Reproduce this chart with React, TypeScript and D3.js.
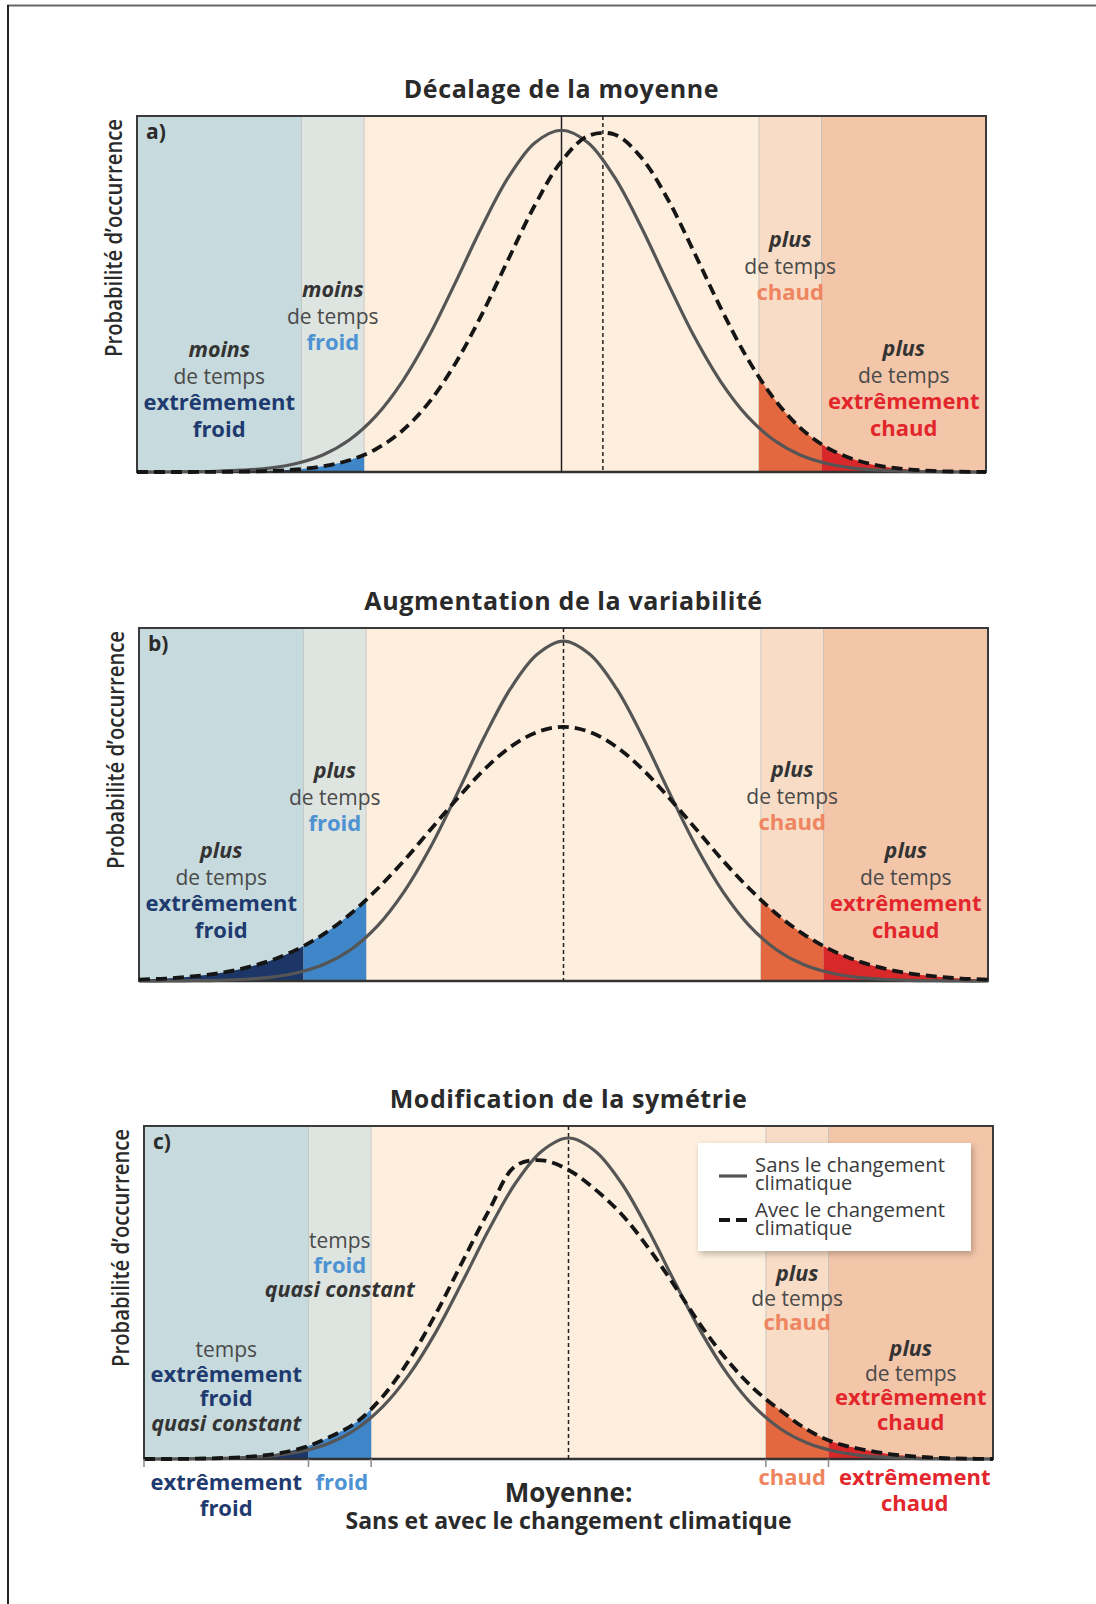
import React from 'react';
import * as d3 from 'd3';

// ---------- DATA ----------
const xGrid = [-4, -3.75, -3.5, -3.25, -3, -2.75, -2.5, -2.25, -2, -1.75, -1.5, -1.25, -1, -0.75, -0.5, -0.25, 0,
  0.25, 0.5, 0.75, 1, 1.25, 1.5, 1.75, 2, 2.25, 2.5, 2.75, 3, 3.25, 3.5, 3.75, 4];

const solidA = [0, 0, 0.001, 0.002, 0.005, 0.011, 0.024, 0.048, 0.09, 0.157, 0.254, 0.381, 0.532, 0.689, 0.828, 0.925, 0.96,
  0.925, 0.828, 0.689, 0.532, 0.381, 0.254, 0.157, 0.09, 0.048, 0.024, 0.011, 0.005, 0.002, 0.001, 0, 0];
const dashedA = [0, 0, 0, 0.0004, 0.001, 0.003, 0.007, 0.016, 0.033, 0.064, 0.116, 0.195, 0.305, 0.443, 0.598, 0.75, 0.873,
  0.944, 0.948, 0.884, 0.767, 0.617, 0.461, 0.32, 0.207, 0.124, 0.069, 0.036, 0.017, 0.008, 0.003, 0.001, 0];

const solidB = [0, 0, 0.001, 0.002, 0.005, 0.011, 0.024, 0.048, 0.09, 0.157, 0.254, 0.381, 0.532, 0.689, 0.828, 0.925, 0.963,
  0.925, 0.828, 0.689, 0.532, 0.381, 0.254, 0.157, 0.09, 0.048, 0.024, 0.011, 0.005, 0.002, 0.001, 0, 0];
const dashedB = [0.004, 0.007, 0.013, 0.022, 0.037, 0.059, 0.091, 0.135, 0.192, 0.262, 0.342, 0.43, 0.517, 0.598, 0.663, 0.705, 0.72,
  0.705, 0.663, 0.598, 0.517, 0.43, 0.342, 0.262, 0.192, 0.135, 0.091, 0.059, 0.037, 0.022, 0.013, 0.007, 0.004];

const solidC = [0, 0, 0.001, 0.002, 0.005, 0.011, 0.024, 0.048, 0.09, 0.157, 0.254, 0.381, 0.532, 0.689, 0.828, 0.925, 0.964,
  0.925, 0.828, 0.689, 0.532, 0.381, 0.254, 0.157, 0.09, 0.048, 0.024, 0.011, 0.005, 0.002, 0.001, 0, 0];
const dashedC = [0, 0, 0.001, 0.003, 0.007, 0.016, 0.034, 0.066, 0.11, 0.188, 0.298, 0.436, 0.592, 0.746, 0.88, 0.897, 0.868,
  0.81, 0.735, 0.635, 0.52, 0.4, 0.295, 0.21, 0.145, 0.088, 0.05, 0.03, 0.016, 0.008, 0.003, 0.001, 0];

const bandEdges = [-4, -2.45, -1.86, 1.86, 2.45, 4];
const meansA = [{ x: 0, dashed: false }, { x: 0.39, dashed: true }];
const meansB = [{ x: 0, dashed: true }];
const meansC = [{ x: 0, dashed: true }];

const titles = ['Décalage de la moyenne', 'Augmentation de la variabilité', 'Modification de la symétrie'];
const panelLetters = ['a)', 'b)', 'c)'];
const yLabel = 'Probabilité d’occurrence';
const legendLabels = [['Sans le changement', 'climatique'], ['Avec le changement', 'climatique']];

const annotA = [
  { band: 0, y: 241, lines: [['moins', 'q'], ['de temps', 't'], ['extrêmement', 'ec'], ['froid', 'ec']] },
  { band: 1, y: 181, lines: [['moins', 'q'], ['de temps', 't'], ['froid', 'c']] },
  { band: 3, y: 131, lines: [['plus', 'q'], ['de temps', 't'], ['chaud', 'w']] },
  { band: 4, y: 240, lines: [['plus', 'q'], ['de temps', 't'], ['extrêmement', 'ew'], ['chaud', 'ew']] },
];
const annotB = [
  { band: 0, y: 230, lines: [['plus', 'q'], ['de temps', 't'], ['extrêmement', 'ec'], ['froid', 'ec']] },
  { band: 1, y: 150, lines: [['plus', 'q'], ['de temps', 't'], ['froid', 'c']] },
  { band: 3, y: 149, lines: [['plus', 'q'], ['de temps', 't'], ['chaud', 'w']] },
  { band: 4, y: 230, lines: [['plus', 'q'], ['de temps', 't'], ['extrêmement', 'ew'], ['chaud', 'ew']] },
];
const annotC = [
  { band: 0, y: 231, lines: [['temps', 't'], ['extrêmement', 'ec'], ['froid', 'ec'], ['quasi constant', 'q']] },
  { band: 1, y: 122, lines: [['temps', 't'], ['froid', 'c'], ['quasi constant', 'q']] },
  { band: 3, y: 155, lines: [['plus', 'q'], ['de temps', 't'], ['chaud', 'w']] },
  { band: 4, y: 230, lines: [['plus', 'q'], ['de temps', 't'], ['extrêmement', 'ew'], ['chaud', 'ew']] },
];
const bottomLabels = [
  { band: 0, y: 31, dx: 0, lines: [['extrêmement', 'ec'], ['froid', 'ec']] },
  { band: 1, y: 31, dx: 2, lines: [['froid', 'c']] },
  { band: 3, y: 26, dx: -5, lines: [['chaud', 'w']] },
  { band: 4, y: 26, dx: 4, lines: [['extrêmement', 'ew'], ['chaud', 'ew']] },
];
const meanLabel = ['Moyenne:', 'Sans et avec le changement climatique'];

// ---------- STYLE / LAYOUT ----------
const FONT = "'Open Sans', 'Noto Sans', sans-serif";
const bandBg = ['#c7dadd', '#dee4e0', '#fdeedd', '#f8dcc6', '#f3c6a9'];
const bandFill = ['#1c3767', '#3f86c8', null, '#e3683f', '#d8282a'];
const textStyles: Record<string, any> = {
  q: { fontWeight: 700, fontStyle: 'italic', fill: '#333', fontSize: 21.5 },
  t: { fontWeight: 400, fill: '#4a4a4a', fontSize: 21 },
  ec: { fontWeight: 700, fill: '#1f3a6f', fontSize: 22 },
  c: { fontWeight: 700, fill: '#4d92d2', fontSize: 22 },
  w: { fontWeight: 700, fill: '#ee8560', fontSize: 22 },
  ew: { fontWeight: 700, fill: '#e2262c', fontSize: 22 },
};

const panels = [
  { id: 'a', left: 137, top: 116, height: 356, solid: solidA, dashed: dashedA, means: meansA, annot: annotA, lh: 26.5 },
  { id: 'b', left: 139, top: 628, height: 353, solid: solidB, dashed: dashedB, means: meansB, annot: annotB, lh: 26.5 },
  { id: 'c', left: 144, top: 1126, height: 333, solid: solidC, dashed: dashedC, means: meansC, annot: annotC, lh: 24.5 },
];
const PW = 849;

function TextBlock({ cx, y, lines, lh }: any) {
  return (
    <g>
      {lines.map((l: any, i: number) => (
        <text key={i} x={cx} y={y + i * lh} textAnchor="middle" {...textStyles[l[1]]}>{l[0]}</text>
      ))}
    </g>
  );
}

function Panel({ p, idx }: any) {
  const x = d3.scaleLinear().domain([-4, 4]).range([p.left, p.left + PW]);
  const y = d3.scaleLinear().domain([0, 1]).range([p.top + p.height, p.top]);
  const curve = d3.curveCatmullRom.alpha(0.5);
  const line = d3.line<number>().x((_, i) => x(xGrid[i])).y(d => y(d)).curve(curve);
  const area = d3.area<number>().x((_, i) => x(xGrid[i])).y0(y(0)).y1(d => y(d)).curve(curve);
  const bottom = p.top + p.height;
  const bandCenter = (b: number) => x((bandEdges[b] + bandEdges[b + 1]) / 2);

  return (
    <g>
      <defs>
        {bandEdges.slice(0, -1).map((e, b) => (
          <clipPath key={b} id={`clip-${p.id}-${b}`}>
            <rect x={x(e)} y={p.top} width={x(bandEdges[b + 1]) - x(e)} height={p.height} />
          </clipPath>
        ))}
      </defs>
      {bandEdges.slice(0, -1).map((e, b) => (
        <rect key={b} x={x(e)} y={p.top} width={x(bandEdges[b + 1]) - x(e)} height={p.height} fill={bandBg[b]} />
      ))}
      {bandEdges.slice(1, -1).map((e, b) => (
        <line key={b} x1={x(e)} x2={x(e)} y1={p.top} y2={bottom} stroke="#b9bdbc" strokeWidth={1} opacity={0.7} />
      ))}
      <text x={p.left + PW / 2} y={p.top - 18} textAnchor="middle" fontSize={25} letterSpacing={0.6} fontWeight={700} fill="#2a2a2a">{titles[idx]}</text>
      <text transform={`translate(${p.left - 15},${p.top + 3}) rotate(-90)`} textAnchor="end" fontSize={24} fontWeight={600} fill="#2a2a2a"
        textLength={238} lengthAdjust="spacingAndGlyphs">{yLabel}</text>
      {p.annot.map((a: any, i: number) => (
        <TextBlock key={i} cx={bandCenter(a.band)} y={p.top + a.y} lines={a.lines} lh={p.lh} />
      ))}
      {bandFill.map((c, b) => c ? (
        <path key={b} d={area(p.dashed) || ''} fill={c} clipPath={`url(#clip-${p.id}-${b})`} />
      ) : null)}
      <rect x={p.left} y={p.top} width={PW} height={p.height} fill="none" stroke="#3a3a3a" strokeWidth={2} />
      <line x1={p.left} x2={p.left + PW} y1={bottom} y2={bottom} stroke="#333" strokeWidth={2.6} />
      {p.means.map((m: any, i: number) => (
        <line key={i} x1={x(m.x)} x2={x(m.x)} y1={p.top} y2={bottom} stroke="#222" strokeWidth={1.5}
          strokeDasharray={m.dashed ? '4 3' : undefined} />
      ))}
      <path d={line(p.solid) || ''} fill="none" stroke="#555" strokeWidth={3.2} />
      <path d={line(p.dashed) || ''} fill="none" stroke="#151515" strokeWidth={3.8} strokeDasharray="11 6" />
      <text x={p.left + 9} y={p.top + 23} fontSize={21} fontWeight={700} fill="#2a2a2a">{panelLetters[idx]}</text>
      {idx === 2 && (
        <g>
          {bandEdges.slice(0, -1).map((e, b) => (
            <line key={b} x1={x(e)} x2={x(e)} y1={bottom} y2={bottom + 8} stroke="#888" strokeWidth={1.5} />
          ))}
          {bottomLabels.map((a, i) => (
            <TextBlock key={i} cx={bandCenter(a.band) + a.dx} y={bottom + a.y} lines={a.lines} lh={26} />
          ))}
          <text x={x(0)} y={bottom + 43} textAnchor="middle" fontSize={26} fontWeight={700} fill="#2a2a2a">{meanLabel[0]}</text>
          <text x={x(0)} y={bottom + 70} textAnchor="middle" fontSize={23} fontWeight={700} fill="#2a2a2a">{meanLabel[1]}</text>
          <g>
            <rect x={698} y={1143} width={273} height={108} fill="#fff" filter="url(#shadow)" />
            <line x1={719} x2={747} y1={1176} y2={1176} stroke="#555" strokeWidth={3.2} />
            <line x1={719} x2={747} y1={1220} y2={1220} stroke="#151515" strokeWidth={3.8} strokeDasharray="11 6" />
            {legendLabels.map((ll, i) => (
              <g key={i}>
                <text x={755} y={1172 + i * 45} fontSize={20} fill="#3a3a3a" textLength={190} lengthAdjust="spacingAndGlyphs">{ll[0]}</text>
                <text x={755} y={1190 + i * 45} fontSize={20} fill="#3a3a3a">{ll[1]}</text>
              </g>
            ))}
          </g>
        </g>
      )}
    </g>
  );
}

export default function App() {
  return (
    <svg width={1096} height={1604} style={{ position: 'absolute', left: 0, top: 0, background: '#fff' }} fontFamily={FONT}>
      <defs>
        <filter id="shadow" x="-10%" y="-10%" width="130%" height="140%">
          <feDropShadow dx="2" dy="3" stdDeviation="3" floodColor="#000" floodOpacity="0.25" />
        </filter>
      </defs>
      <rect x={0} y={0} width={1096} height={1604} fill="#fff" />
      <line x1={7} y1={5.5} x2={1096} y2={5.5} stroke="#666" strokeWidth={2} />
      <line x1={8} y1={5} x2={8} y2={1604} stroke="#222" strokeWidth={2} />
      {panels.map((p, i) => <Panel key={p.id} p={p} idx={i} />)}
    </svg>
  );
}
